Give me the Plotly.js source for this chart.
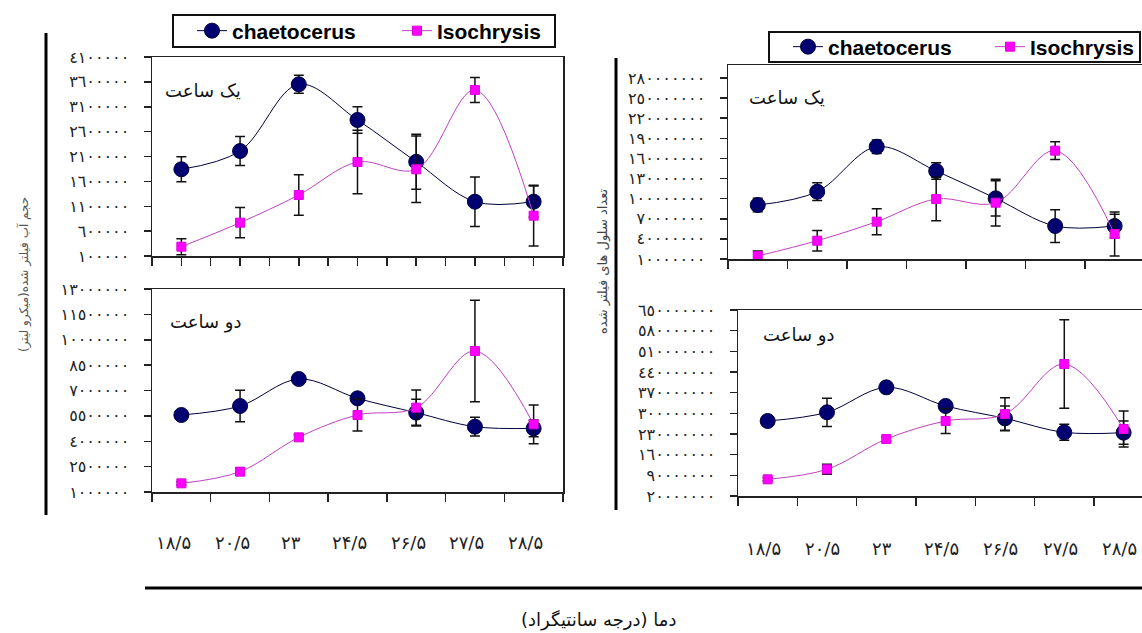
<!DOCTYPE html>
<html>
<head>
<meta charset="utf-8">
<script src="https://cdn.plot.ly/plotly-3.0.1.min.js"></script>
<style>html,body{margin:0;padding:0;background:#fff}#chart{width:1142px;height:633px}</style>
</head>
<body>
<div id="chart"></div>
<script>
// Categories (temperature, °C)
const categories = ['18.5', '20.5', '23', '24.5', '26.5', '27.5', '28.5'];
const xLabels = ['۱۸/۵', '۲۰/۵', '۲۳', '۲۴/۵', '۲۶/۵', '۲۷/۵', '۲۸/۵'];

// Left panel: one hour (filtered water volume)
const leftHour1Chaet = [1843000, 2210000, 3551000, 2834000, 1993000, 1192000, 1192000];
const leftHour1ChaetErr = [250000, 290000, 180000, 265000, 553000, 497000, 315000];
const leftHour1Iso = [287000, 770000, 1326000, 1989000, 1843000, 3437000, 910000];
const leftHour1IsoErr = [160000, 305000, 405000, 637000, 670000, 251000, 610000];

// Left panel: two hours
const leftHour2Chaet = [5552000, 6084000, 7680000, 6537000, 5690000, 4861000, 4763000];
const leftHour2ChaetErr = [150000, 936000, 200000, 200000, 788000, 552000, 493000];
const leftHour2Iso = [1512000, 2202000, 4232000, 5552000, 5985000, 9335000, 5000000];
const leftHour2IsoErr = [100000, 200000, 150000, 946000, 1044000, 2995000, 1143000];

// Right panel: one hour (number of filtered cells)
const rightHour1Chaet = [90500000, 110400000, 177500000, 141300000, 100500000, 59200000, 59200000];
const rightHour1ChaetErr = [10000000, 13200000, 10000000, 12400000, 26400000, 24400000, 17400000];
const rightHour1Iso = [14500000, 37300000, 65700000, 99500000, 94000000, 171600000, 47300000];
const rightHour1IsoErr = [7500000, 15400000, 19400000, 32300000, 34800000, 13200000, 32800000];

// Right panel: two hours
const rightHour2Chaet = [274000000, 303500000, 388000000, 325000000, 283000000, 235700000, 234500000];
const rightHour2ChaetErr = [8000000, 48000000, 10000000, 10000000, 42000000, 27000000, 39500000];
const rightHour2Iso = [76500000, 110400000, 213000000, 274000000, 297700000, 467000000, 247000000];
const rightHour2IsoErr = [5000000, 17000000, 8000000, 42000000, 55000000, 150000000, 61000000];

// Y tick values and labels
const tlTickVals = [100000, 600000, 1100000, 1600000, 2100000, 2600000, 3100000, 3600000, 4100000];
const tlTickText = ['١٠٠٠٠٠', '٦٠٠٠٠٠', '١١٠٠٠٠٠', '١٦٠٠٠٠٠', '٢١٠٠٠٠٠', '٢٦٠٠٠٠٠', '٣١٠٠٠٠٠', '٣٦٠٠٠٠٠', '٤١٠٠٠٠٠'];
const blTickVals = [1000000, 2500000, 4000000, 5500000, 7000000, 8500000, 10000000, 11500000, 13000000];
const blTickText = ['١٠٠٠٠٠٠', '٢٥٠٠٠٠٠', '٤٠٠٠٠٠٠', '٥٥٠٠٠٠٠', '٧٠٠٠٠٠٠', '٨٥٠٠٠٠٠', '١٠٠٠٠٠٠٠', '١١٥٠٠٠٠٠', '١٣٠٠٠٠٠٠'];
const trTickVals = [10000000, 40000000, 70000000, 100000000, 130000000, 160000000, 190000000, 220000000, 250000000, 280000000];
const trTickText = ['١٠٠٠٠٠٠٠', '٤٠٠٠٠٠٠٠', '٧٠٠٠٠٠٠٠', '١٠٠٠٠٠٠٠٠', '١٣٠٠٠٠٠٠٠', '١٦٠٠٠٠٠٠٠', '١٩٠٠٠٠٠٠٠', '٢٢٠٠٠٠٠٠٠', '٢٥٠٠٠٠٠٠٠', '٢٨٠٠٠٠٠٠٠'];
const brTickVals = [20000000, 90000000, 160000000, 230000000, 300000000, 370000000, 440000000, 510000000, 580000000, 650000000];
const brTickText = ['٢٠٠٠٠٠٠٠', '٩٠٠٠٠٠٠٠', '١٦٠٠٠٠٠٠٠', '٢٣٠٠٠٠٠٠٠', '٣٠٠٠٠٠٠٠٠', '٣٧٠٠٠٠٠٠٠', '٤٤٠٠٠٠٠٠٠', '٥١٠٠٠٠٠٠٠', '٥٨٠٠٠٠٠٠٠', '٦٥٠٠٠٠٠٠٠'];

const seriesNames = ['chaetocerus', 'Isochrysis'];
const hourLabels = ['یک ساعت', 'دو ساعت'];
const leftYTitle = 'حجم آب فیلتر شده(میکرو لیتر)';
const rightYTitle = 'تعداد سلول های فیلتر شده';
const xTitle = 'دما (درجه سانتیگراد)';

// ---------- build ----------
const W = 1142, H = 633;
const px = v => v / W;
const py = v => 1 - v / H;
const xIdx = categories.map((_, i) => i);

const chaetStyle = {
  line: {color: '#00003a', width: 1, shape: 'spline', smoothing: 1},
  marker: {symbol: 'circle', size: 15, color: '#000070', line: {color: '#000040', width: 1}}
};
const isoStyle = {
  line: {color: '#c040c0', width: 1, shape: 'spline', smoothing: 1},
  marker: {symbol: 'square', size: 9, color: '#ff00ff', line: {color: '#dd00dd', width: 1}}
};
const errStyle = {type: 'data', color: '#111', thickness: 1.5, width: 5};

function mk(name, y, err, style, xa, ya, showLeg, leg, lw) {
  const t = {
    type: 'scatter', mode: 'lines+markers', name: name,
    x: xIdx, y: y, xaxis: xa, yaxis: ya,
    line: style.line, marker: style.marker,
    error_y: Object.assign({array: err}, errStyle),
    showlegend: showLeg, legend: leg, hoverinfo: 'skip'
  };
  if (lw) t.legendwidth = lw;
  return t;
}

const data = [
  mk(seriesNames[0], leftHour1Chaet, leftHour1ChaetErr, chaetStyle, 'x', 'y', true, 'legend', 160),
  mk(seriesNames[1], leftHour1Iso, leftHour1IsoErr, isoStyle, 'x', 'y', true, 'legend'),
  mk(seriesNames[0], leftHour2Chaet, leftHour2ChaetErr, chaetStyle, 'x2', 'y2', false, 'legend'),
  mk(seriesNames[1], leftHour2Iso, leftHour2IsoErr, isoStyle, 'x2', 'y2', false, 'legend'),
  mk(seriesNames[0], rightHour1Chaet, rightHour1ChaetErr, chaetStyle, 'x3', 'y3', true, 'legend2', 157),
  mk(seriesNames[1], rightHour1Iso, rightHour1IsoErr, isoStyle, 'x3', 'y3', true, 'legend2'),
  mk(seriesNames[0], rightHour2Chaet, rightHour2ChaetErr, chaetStyle, 'x4', 'y4', false, 'legend2'),
  mk(seriesNames[1], rightHour2Iso, rightHour2IsoErr, isoStyle, 'x4', 'y4', false, 'legend2')
];

const axisLine = {showline: true, linecolor: '#222', linewidth: 1.5, zeroline: false, showgrid: false, fixedrange: true, automargin: false};
const boundaries = [-0.5, 0.5, 1.5, 2.5, 3.5, 4.5, 5.5, 6.5];
const halfSteps = [-0.5, 0, 0.5, 1, 1.5, 2, 2.5, 3, 3.5, 4, 4.5, 5, 5.5, 6, 6.5];

function xAx(domain, range, ya, tv, mirror) {
  return Object.assign({}, axisLine, {
    domain: domain, range: range, anchor: ya, mirror: mirror,
    tickmode: 'array', tickvals: tv, ticktext: tv.map(() => ''),
    ticks: 'outside', ticklen: 8, tickwidth: 1.5, tickcolor: '#222'
  });
}
function yAx(domain, range, xa, tv, tt, mirror) {
  return Object.assign({}, axisLine, {
    domain: domain, range: range, anchor: xa, mirror: mirror,
    tickmode: 'array', tickvals: tv, ticktext: tt,
    ticks: 'outside', ticklen: 7, tickwidth: 1.5, tickcolor: '#222',
    ticklabelstandoff: 11,
    tickfont: {family: 'DejaVu Sans', size: 16, color: '#222'}
  });
}

const legendFont = {family: 'Liberation Sans', size: 21, color: '#000', weight: 'bold'};

const layout = {
  width: W, height: H,
  margin: {l: 0, r: 0, t: 0, b: 0, autoexpand: false},
  paper_bgcolor: '#fff', plot_bgcolor: '#fff',
  xaxis: xAx([px(152), px(563)], [-0.5, 6.5], 'y', halfSteps, true),
  yaxis: yAx([py(256), py(57)], [100000, 4100000], 'x', tlTickVals, tlTickText, true),
  xaxis2: xAx([px(152), px(563)], [-0.5, 6.5], 'y2', boundaries, true),
  yaxis2: yAx([py(492), py(289)], [1000000, 13000000], 'x2', blTickVals, blTickText, true),
  xaxis3: xAx([px(728), 1], [-0.5, 6.46], 'y3', boundaries, true),
  yaxis3: yAx([py(259), py(65)], [10000000, 299400000], 'x3', trTickVals, trTickText, false),
  xaxis4: xAx([px(738), 1], [-0.5, 6.31], 'y4', boundaries, true),
  yaxis4: yAx([py(496), py(310)], [20000000, 650000000], 'x4', brTickVals, brTickText, false),
  legend: {
    xref: 'container', yref: 'container',
    x: px(192), y: py(31), xanchor: 'left', yanchor: 'middle', orientation: 'h',
    borderwidth: 0, bgcolor: 'rgba(0,0,0,0)', font: legendFont, traceorder: 'normal'
  },
  legend2: {
    xref: 'container', yref: 'container',
    x: px(788), y: py(47), xanchor: 'left', yanchor: 'middle', orientation: 'h',
    borderwidth: 0, bgcolor: 'rgba(0,0,0,0)', font: legendFont, traceorder: 'normal'
  },
  shapes: [
    {type: 'rect', xref: 'paper', yref: 'paper', x0: px(173), x1: px(555), y0: py(15), y1: py(47), line: {color: '#111', width: 2}, fillcolor: '#fff', layer: 'below'},
    {type: 'rect', xref: 'paper', yref: 'paper', x0: px(769), x1: px(1140), y0: py(32), y1: py(62), line: {color: '#111', width: 2}, fillcolor: '#fff', layer: 'below'},
    {type: 'line', xref: 'paper', yref: 'paper', x0: px(46), x1: px(46), y0: py(33), y1: py(515), line: {color: '#000', width: 3}},
    {type: 'line', xref: 'paper', yref: 'paper', x0: px(616), x1: px(616), y0: py(58), y1: py(510), line: {color: '#000', width: 3}},
    {type: 'line', xref: 'paper', yref: 'paper', x0: px(145), x1: 1, y0: py(588), y1: py(588), line: {color: '#000', width: 3}}
  ],
  annotations: []
};

const persianFont = 'DejaVu Sans';
const hourPos = [
  {x: 203, y: 90, t: 0}, {x: 205, y: 322, t: 1},
  {x: 787, y: 97, t: 0}, {x: 798, y: 335, t: 1}
];
hourPos.forEach(p => layout.annotations.push({
  xref: 'paper', yref: 'paper', x: px(p.x), y: py(p.y), text: hourLabels[p.t],
  showarrow: false, xanchor: 'center', yanchor: 'middle',
  font: {family: persianFont, size: 18, color: '#111'}
}));

xLabels.forEach((t, i) => {
  layout.annotations.push({
    xref: 'x2', yref: 'paper', x: xIdx[i], y: py(542), text: t, showarrow: false,
    xanchor: 'center', yanchor: 'middle', xshift: -8,
    font: {family: persianFont, size: 18, color: '#222'}
  });
  layout.annotations.push({
    xref: 'x4', yref: 'paper', x: xIdx[i], y: py(548), text: t, showarrow: false,
    xanchor: 'center', yanchor: 'middle', xshift: -4,
    font: {family: persianFont, size: 18, color: '#222'}
  });
});

layout.annotations.push({
  xref: 'paper', yref: 'paper', x: px(24), y: py(275), text: leftYTitle, textangle: -90,
  showarrow: false, xanchor: 'center', yanchor: 'middle',
  font: {family: persianFont, size: 12, color: '#555'}
});
layout.annotations.push({
  xref: 'paper', yref: 'paper', x: px(603), y: py(262), text: rightYTitle, textangle: -90,
  showarrow: false, xanchor: 'center', yanchor: 'middle',
  font: {family: persianFont, size: 13, color: '#444'}
});
layout.annotations.push({
  xref: 'paper', yref: 'paper', x: px(598), y: py(620), text: xTitle,
  showarrow: false, xanchor: 'center', yanchor: 'middle',
  font: {family: persianFont, size: 18, color: '#111'}
});

Plotly.newPlot('chart', data, layout, {staticPlot: true, displayModeBar: false});
</script>
</body>
</html>
